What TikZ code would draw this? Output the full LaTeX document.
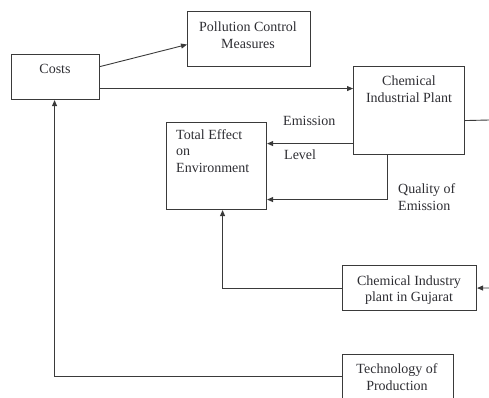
\documentclass[tikz,border=0pt]{standalone}
\usepackage{fontspec}
\setmainfont{Liberation Serif}
\usetikzlibrary{arrows.meta,calc}
\definecolor{ink}{HTML}{2E2E33}
\definecolor{wire}{HTML}{3A3A3A}
\begin{document}
\begin{tikzpicture}[x=1pt,y=-1pt,
  box/.style={draw=wire,line width=1.1pt,inner sep=0pt,anchor=north west},
  lbl/.style={inner sep=0pt,text=ink,font=\fontsize{14}{16.5}\selectfont},
  wireline/.style={draw=wire,line width=0.9pt},
  arr/.style={wireline,-{Triangle[length=6pt,width=5pt]}}]
\path[use as bounding box,clip] (0,0) rectangle (489,397);

% boxes
\node[box,minimum width=88pt,minimum height=45pt] (costs) at (11,54) {};
\node[box,minimum width=123pt,minimum height=55pt] (pcm) at (187,11) {};
\node[box,minimum width=111pt,minimum height=88pt] (plant) at (353,66) {};
\node[box,minimum width=100pt,minimum height=87pt] (te) at (166,122) {};
\node[box,minimum width=134pt,minimum height=45pt] (guj) at (342,265) {};
\node[box,minimum width=111pt,minimum height=44pt] (tech) at (342,354) {};

% box texts
\node[lbl] (tcosts) at (55,68.5) {Costs};
\node[lbl,align=center] (tpcm) at (248,35) {Pollution Control\\Measures};
\node[lbl,align=center] (tplant) at (409,89) {Chemical\\Industrial Plant};
\node[lbl,align=left,anchor=west] (tte) at (176,151) {Total Effect\\on\\Environment};
\node[lbl,align=center] (tguj) at (409,290) {Chemical Industry\\plant in Gujarat};
\node[lbl,align=center] (ttech) at (397,377) {Technology of\\Production};

% connector labels
\node[lbl,anchor=base west] (lemis) at (283,125) {Emission};
\node[lbl,anchor=base west] (llevel) at (284,159) {Level};
\node[lbl,align=left,anchor=west] (lqual) at (398,197) {Quality of\\Emission};

% free ends at the right border
\coordinate (outA) at (489,120);
\coordinate (inB) at (489,288);

% connectors
\draw[arr] ([yshift=10.5pt]costs.east) -- ([yshift=-5.5pt]pcm.west);
\draw[arr] ([yshift=-11.5pt]costs.east) -- ([yshift=-11.5pt]costs.east -| plant.west);
\draw[wireline] ([yshift=-10pt]plant.east) -- (outA);
\draw[arr] ([yshift=-33pt]plant.west) -- ([yshift=-33pt]plant.west -| te.east);
\draw[arr] ([xshift=-21.5pt]plant.south) |- ([yshift=-33.5pt]te.east);
\draw[arr] (guj.west) -| ([xshift=6pt]te.south);
\draw[arr] (inB) -- (guj.east);
\draw[arr] (tech.west) -| ([xshift=-1pt]costs.south);
\end{tikzpicture}
\end{document}
